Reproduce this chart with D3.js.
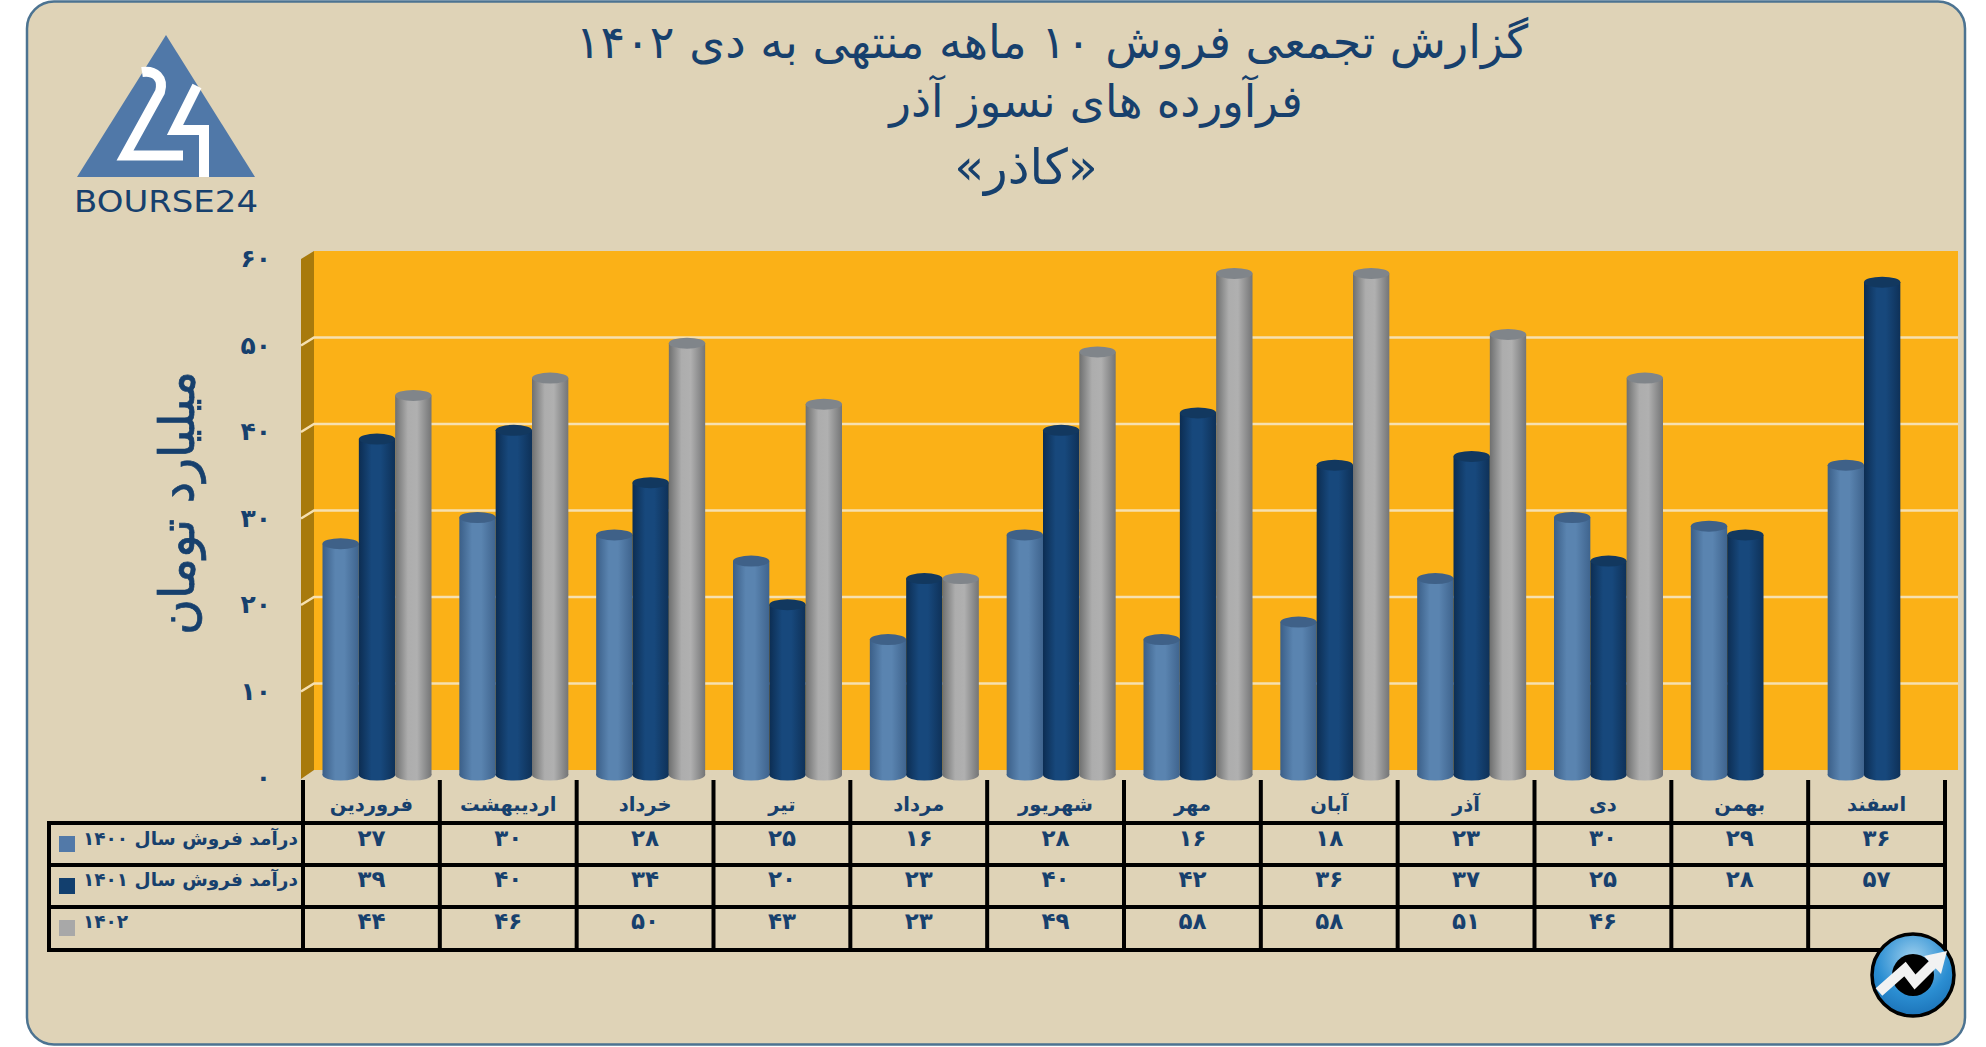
<!DOCTYPE html>
<meta charset="utf-8">
<style>

html, body {
    margin: 0;
    background: #fff;
}

svg {
    display: block;
}

text {
    font-family: "DejaVu Sans", "Noto Sans", sans-serif;
    fill: #17406d;
}

.fa {
    direction: rtl;
    unicode-bidi: embed;
}

.axis--y path, .axis--y line {
    display: none;
}

.axis--y text {
    font-size: 25px;
    font-weight: bold;
}

.cell {
    font-size: 23px;
    font-weight: bold;
    text-anchor: middle;
}

.legend-label {
    font-size: 18.5px;
    font-weight: bold;
}

</style>
<svg width="1986" height="1047"></svg>
<script src="https://d3js.org/d3.v7.min.js"></script>
<script>

var months = ["فروردین", "اردیبهشت", "خرداد", "تیر", "مرداد", "شهریور", "مهر", "آبان", "آذر", "دی", "بهمن", "اسفند"];
var seriesNames = ["درآمد فروش سال ۱۴۰۰", "درآمد فروش سال ۱۴۰۱", "۱۴۰۲"];
var sales1400 = [27, 30, 28, 25, 16, 28, 16, 18, 23, 30, 29, 36];
var sales1401 = [39, 40, 34, 20, 23, 40, 42, 36, 37, 25, 28, 57];
var sales1402 = [44, 46, 50, 43, 23, 49, 58, 58, 51, 46, null, null];
var yTicks = [0, 10, 20, 30, 40, 50, 60];
var titleLines = ["گزارش تجمعی فروش ۱۰ ماهه منتهی به دی ۱۴۰۲", "فرآورده های نسوز آذر", "«کاذر»"];
var yTitle = "میلیارد تومان";

var seriesValues = [sales1400, sales1401, sales1402];
var seriesColors = [
    {stops: ["#3b5f88", "#5a84b0", "#5a84b0", "#3f648e"], top: "#3f6188", swatch: "#5279a8"},
    {stops: ["#0c2d52", "#17487c", "#17487c", "#0e3158"], top: "#12385f", swatch: "#123f6e"},
    {stops: ["#6f7070", "#adadad", "#b0b0b0", "#747576"], top: "#80858a", swatch: "#a8a8a8"}
];

var svg = d3.select("svg"),
    depthX = 13,
    depthY = 8,
    wall = {left: 314, right: 1958, top: 251, bottom: 770},
    table = {left: 49, right: 1945, head: 780, rows: [823, 865, 907, 950]};

var x = d3.scaleBand().domain(months).range([303, table.right]),
    x1 = d3.scaleBand().domain(d3.range(3)).range([19.5, 128.5]),
    y = d3.scaleLinear().domain([0, 60]).range([wall.bottom, wall.top]),
    yBar = d3.scaleLinear().domain([0, 60]).range([779, 256]);

// persian digits for axis and table
function fa(n) {
    return String(n).replace(/\d/g, function(d) { return "۰۱۲۳۴۵۶۷۸۹"[+d]; });
}

// panel
svg.append("rect")
    .attr("x", 27)
    .attr("y", 1.5)
    .attr("width", 1938)
    .attr("height", 1043)
    .attr("rx", 27)
    .attr("fill", "#dfd3b7")
    .attr("stroke", "#4c7391")
    .attr("stroke-width", 2.5);

// gradients for the cylinders
var defs = svg.append("defs");
var stopAt = ["0%", "35%", "60%", "100%"];
seriesColors.forEach(function(c, i) {
    var grad = defs.append("linearGradient").attr("id", "cyl" + i);
    c.stops.forEach(function(col, j) {
        grad.append("stop").attr("offset", stopAt[j]).attr("stop-color", col);
    });
});
var badgeGrad = defs.append("radialGradient").attr("id", "badge").attr("cy", "30%").attr("r", "75%");
badgeGrad.append("stop").attr("offset", "0%").attr("stop-color", "#9fd0ee");
badgeGrad.append("stop").attr("offset", "60%").attr("stop-color", "#2b8ed2");
badgeGrad.append("stop").attr("offset", "100%").attr("stop-color", "#1a6fb4");

// walls
svg.append("path")
    .attr("d", d3.line()([[wall.left, wall.top], [wall.left - depthX, wall.top + depthY], [wall.left - depthX, wall.bottom + depthY + 1], [wall.left, wall.bottom]]) + "Z")
    .attr("fill", "#a87a0c");

svg.append("rect")
    .attr("x", wall.left)
    .attr("y", wall.top)
    .attr("width", wall.right - wall.left)
    .attr("height", wall.bottom - wall.top)
    .attr("fill", "#fbb117");

// gridlines, back wall + side wall
svg.append("g").selectAll("path")
    .data(yTicks.filter(function(d) { return d > 0 && d < 60; }))
    .enter().append("path")
    .attr("d", function(d) {
        return d3.line()([[wall.left - depthX, y(d) + depthY], [wall.left, y(d)], [wall.right, y(d)]]);
    })
    .attr("fill", "none")
    .attr("stroke", "#f6e0b0")
    .attr("stroke-width", 2.5);

// y axis sits on the front edge of the side wall
svg.append("g")
    .attr("class", "axis axis--y")
    .attr("transform", "translate(271," + depthY + ")")
    .call(d3.axisLeft(y).tickValues(yTicks).tickFormat(fa).tickSize(0).tickPadding(0))
    .selectAll("text")
    .attr("dy", "0.3em");

svg.append("text")
    .attr("class", "fa")
    .attr("transform", "translate(194,503) rotate(-90)")
    .attr("text-anchor", "middle")
    .attr("stroke", "#17406d")
    .attr("stroke-width", 0.7)
    .style("font-size", "49px")
    .text(yTitle);

// bars
var rx = x1.bandwidth() / 2,
    ry = 5.5,
    barBase = 775;

seriesValues.forEach(function(values, s) {
    var c = seriesColors[s];
    var bars = svg.append("g").selectAll("g")
        .data(values.map(function(v, i) { return {month: months[i], value: v}; })
            .filter(function(d) { return d.value !== null; }))
        .enter().append("g")
        .attr("transform", function(d) { return "translate(" + (x(d.month) + x1(s)) + ",0)"; });

    bars.append("ellipse")
        .attr("cx", rx)
        .attr("cy", barBase)
        .attr("rx", rx)
        .attr("ry", ry)
        .attr("fill", "url(#cyl" + s + ")");

    bars.append("rect")
        .attr("y", function(d) { return yBar(d.value); })
        .attr("width", x1.bandwidth())
        .attr("height", function(d) { return barBase - yBar(d.value); })
        .attr("fill", "url(#cyl" + s + ")");

    bars.append("ellipse")
        .attr("cx", rx)
        .attr("cy", function(d) { return yBar(d.value); })
        .attr("rx", rx)
        .attr("ry", ry)
        .attr("fill", c.top);
});

// data table
var tableG = svg.append("g").attr("stroke", "#000").attr("stroke-width", 4);

tableG.selectAll(".hline")
    .data(table.rows)
    .enter().append("line")
    .attr("x1", table.left)
    .attr("x2", table.right + 2)
    .attr("y1", function(d) { return d; })
    .attr("y2", function(d) { return d; });

tableG.selectAll(".vline")
    .data(months.concat(["end"]))
    .enter().append("line")
    .attr("x1", function(d, i) { return x.range()[0] + i * x.step(); })
    .attr("x2", function(d, i) { return x.range()[0] + i * x.step(); })
    .attr("y1", table.head)
    .attr("y2", table.rows[3]);

tableG.append("line")
    .attr("x1", table.left)
    .attr("x2", table.left)
    .attr("y1", table.rows[0] - 2)
    .attr("y2", table.rows[3] + 2);

svg.append("g").selectAll("text")
    .data(months)
    .enter().append("text")
    .attr("class", "cell fa")
    .attr("x", function(d) { return x(d) + x.bandwidth() / 2; })
    .attr("y", 811)
    .style("font-size", "19.5px")
    .text(function(d) { return d; });

var rowBase = [846, 887, 929];

seriesValues.forEach(function(values, s) {
    svg.append("g").selectAll("text")
        .data(values.map(function(v, i) { return {month: months[i], value: v}; })
            .filter(function(d) { return d.value !== null; }))
        .enter().append("text")
        .attr("class", "cell")
        .attr("x", function(d) { return x(d.month) + x.bandwidth() / 2; })
        .attr("y", rowBase[s])
        .text(function(d) { return fa(d.value); });

    svg.append("rect")
        .attr("x", 59)
        .attr("y", table.rows[s] + 13)
        .attr("width", 16)
        .attr("height", 16)
        .attr("fill", seriesColors[s].swatch);

    svg.append("text")
        .attr("class", "legend-label fa")
        .attr("x", 83)
        .attr("y", rowBase[s] - 1)
        .attr("text-anchor", "end")
        .text(seriesNames[s]);
});

// title
var titleX = [1052, 1096, 1026],
    titleY = [58, 117, 184],
    titleSize = [46, 45, 49];

svg.append("g").selectAll("text")
    .data(titleLines)
    .enter().append("text")
    .attr("class", "fa")
    .attr("x", function(d, i) { return titleX[i]; })
    .attr("y", function(d, i) { return titleY[i]; })
    .attr("text-anchor", "middle")
    .style("font-size", function(d, i) { return titleSize[i] + "px"; })
    .text(function(d) { return d; });

// logo
var logo = svg.append("g");
logo.append("path")
    .attr("d", "M166,35L255,177H77Z")
    .attr("fill", "#5078a8");
logo.append("path")
    .attr("d", "M142,72C155,70 164,78 160,92L125,155.5H183")
    .attr("fill", "none")
    .attr("stroke", "#fff")
    .attr("stroke-width", 10);
logo.append("path")
    .attr("d", "M197,86L175,130H204V177")
    .attr("fill", "none")
    .attr("stroke", "#fff")
    .attr("stroke-width", 10);
logo.append("text")
    .attr("x", 74)
    .attr("y", 212)
    .attr("textLength", 184)
    .attr("lengthAdjust", "spacingAndGlyphs")
    .style("font-size", "31px")
    .text("BOURSE24");

// badge bottom right
var badge = svg.append("g");
badge.append("circle")
    .attr("cx", 1913)
    .attr("cy", 975)
    .attr("r", 41)
    .attr("fill", "url(#badge)")
    .attr("stroke", "#000")
    .attr("stroke-width", 3.5);
badge.append("circle")
    .attr("cx", 1913)
    .attr("cy", 975)
    .attr("r", 21)
    .attr("fill", "#000");
badge.append("path")
    .attr("d", "M1879,992L1905,969L1915,982L1935,962")
    .attr("fill", "none")
    .attr("stroke", "#f2f2f2")
    .attr("stroke-width", 10);
badge.append("path")
    .attr("d", "M1947,951L1941,974L1924,956Z")
    .attr("fill", "#f2f2f2");

</script>
